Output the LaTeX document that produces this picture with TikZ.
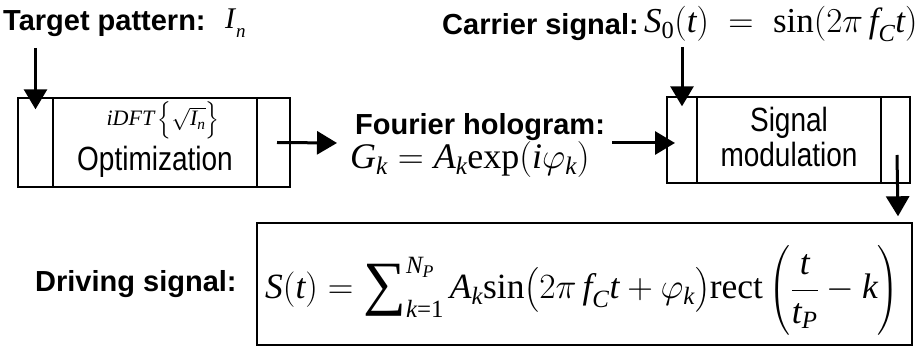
\RequirePackage{fix-cm}
\documentclass[tikz,border=0pt]{standalone}
\usepackage{amsmath}
\usepackage{fontspec}
\setmainfont{Liberation Sans}
\newfontfamily\tms{Liberation Serif}
\newcommand\tvi[1]{\text{\tms\itshape #1}}
\newcommand\tvr[1]{\text{\tms #1}}
\newcommand\bigsum{\mathop{\vcenter{\hbox{\tms\fontsize{60}{60}\selectfont ∑}}}}
\usetikzlibrary{arrows.meta}
\begin{document}
\begin{tikzpicture}[x=1pt,y=-1pt,
  box/.style={draw,line width=1.4pt,inner sep=0pt},
  arr/.style={line width=3pt,-{Triangle[length=20pt,width=23pt]}},
  lbl/.style={font=\fontsize{29}{34}\selectfont\bfseries,inner sep=0pt,anchor=base west},
  eq/.style={inner sep=0pt,anchor=base west},
  reg/.style={font=\fontsize{28}{34}\selectfont,inner sep=0pt,anchor=base}]
\useasboundingbox (0,0) rectangle (919,347);
% box 1
\node[box,minimum width=35pt,minimum height=89pt] (b1l) at (35.5,142.5) {};
\node[box,minimum width=204pt,minimum height=89pt] (b1c) at (155,142.5) {};
\node[box,minimum width=33pt,minimum height=89pt] (b1r) at (273.5,142.5) {};
\node[inner sep=0pt,anchor=base,font=\fontsize{22}{26}\selectfont] (idft) at (163,126)
  {$\tvi{iDFT}\left\{\vrule height 0.95em depth 0.45em width 0pt\sqrt{\tvi{I}_{\tvi{n}}}\right\}$};
\node[reg] (opt) at (155,171) {\scalebox{1}[1.2]{Optimization}};
% box 2
\node[box,minimum width=30pt,minimum height=86pt] (b2l) at (682,140) {};
\node[box,minimum width=184pt,minimum height=86pt] (b2c) at (789,140) {};
\node[box,minimum width=29pt,minimum height=86pt] (b2r) at (895.5,140) {};
\node[reg] (sig) at (789,132) {\scalebox{1}[1.2]{Signal}};
\node[reg] (mod) at (789,167) {\scalebox{1}[1.2]{modulation}};
% bottom box
\node[box,minimum width=655pt,minimum height=122pt] (sb) at (584.5,284) {};
% labels
\node[lbl] (tp) at (3,31) {Target pattern:};
\node[eq,font=\fontsize{30}{34}\selectfont] (In) at (225,29)
  {\tms\itshape I\kern1pt\raisebox{-9pt}{\fontsize{19}{19}\selectfont n}};
\node[lbl] (cs) at (442,35) {Carrier signal:};
\node[eq,font=\fontsize{35}{40}\selectfont] (s0) at (644,33)
  {$\tvi{S}_{\tvr{0}}(\tvi{t})\;=\;\tvr{sin}(2\pi\, \tvi{f}_{\tvi{C}}\tvi{t})$};
\node[lbl] (fh) at (355,135) {Fourier hologram:};
\node[eq,font=\fontsize{36}{40}\selectfont] (gk) at (350,169)
  {$\tvi{G}_{\tvi{k}} = \tvi{A}_{\tvi{k}}\tvr{exp}(\tvi{i}\varphi_{\tvi{k}})$};
\node[lbl] (ds) at (35,292) {Driving signal:};
\node[eq,font=\fontsize{35.5}{42}\selectfont] (sf) at (265,299)
  {$\tvi{S}(\tvi{t}) = \bigsum\nolimits_{\tvi{k}\tvr{=1}}^{\tvi{N}_{\tvi{P}}} \tvi{A}_{\tvi{k}}\tvr{sin}\bigl(2\pi\, \tvi{f}_{\tvi{C}}\tvi{t} + \varphi_{\tvi{k}}\bigr)\tvr{rect}\left(\vrule height 1.5em depth 1.05em width 0pt\dfrac{\tvi{t}}{\tvi{t}_{\tvi{P}}} - \tvi{k}\right)$};
% connectors
\coordinate (a1s) at (b1l.center |- 0,48);
\draw[arr] (a1s) -- ([yshift=-12pt]b1l.north);
\coordinate (a2s) at ([xshift=3.5pt]b1r.center);
\coordinate (a2e) at (337,143);
\draw[arr] (a2s) -- (a2e);
\coordinate (a3s) at (612,143);
\draw[arr] (a3s) -- ([xshift=-7pt]b2l.center |- a3s);
\coordinate (a4s) at (b2l.center |- 0,47);
\draw[arr] (a4s) -- ([yshift=-10pt]b2l.north);
\coordinate (a5s) at ([xshift=1.5pt]b2r.center |- 0,155);
\draw[arr] (a5s) -- ([xshift=2.5pt,yshift=6pt]sb.north east -| b2r.center);
\end{tikzpicture}
\end{document}
